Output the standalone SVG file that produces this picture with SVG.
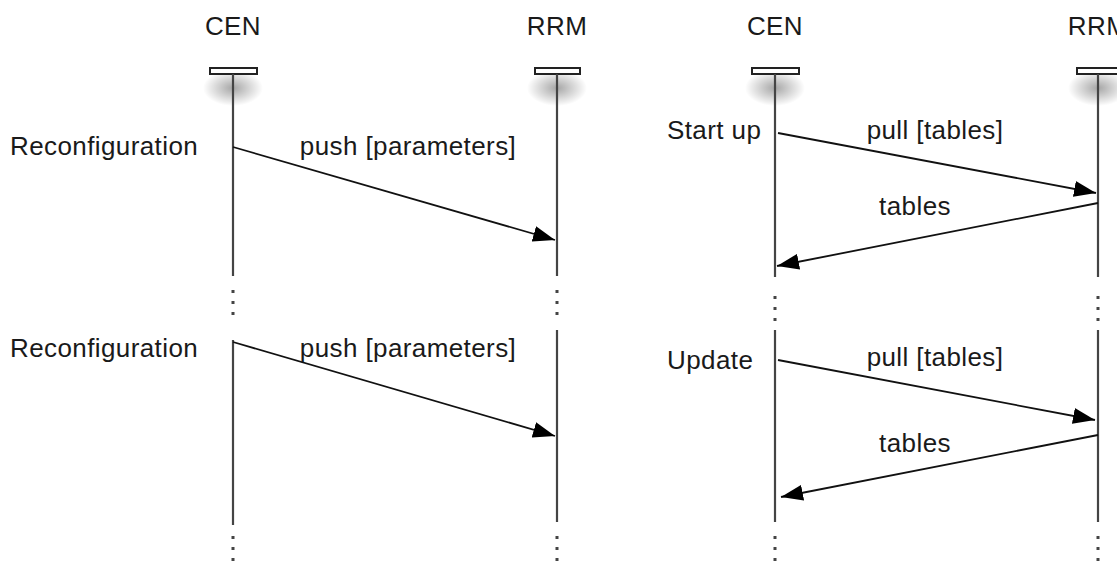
<svg xmlns="http://www.w3.org/2000/svg" width="1117" height="563" viewBox="0 0 1117 563">
<style>
text{font-family:"Liberation Sans",Arial,sans-serif;font-size:26px;fill:#1a1a1a;letter-spacing:0.4px}
.life{stroke:#444;stroke-width:2.2;fill:none}
.dots{stroke:#444;stroke-width:3;stroke-dasharray:3 8;fill:none}
.bar{fill:#fff;stroke:#222;stroke-width:2}
.msg{stroke:#111;stroke-width:1.8;fill:none;marker-end:url(#ah)}
</style>
<defs>
<radialGradient id="sh" cx="0.5" cy="0.5" r="0.5">
<stop offset="0" stop-color="#000" stop-opacity="0.35"/>
<stop offset="1" stop-color="#000" stop-opacity="0"/>
</radialGradient>
<marker id="ah" markerUnits="userSpaceOnUse" markerWidth="24" markerHeight="16" refX="22" refY="8" orient="auto">
<path d="M0,0 L22,8 L0,16 Z" fill="#000"/>
</marker>
</defs>
<g id="cen1">
<text x="233" y="35" text-anchor="middle">CEN</text>
<ellipse cx="233" cy="88" rx="30" ry="18" fill="url(#sh)"/>
<rect class="bar" x="210" y="68" width="47" height="6"/>
<path class="life" d="M233,74 V276 M233,340 V525"/>
<path class="dots" d="M233,290 V318 M233,536 V563"/>
</g>
<g id="rrm1">
<text x="557" y="35" text-anchor="middle">RRM</text>
<ellipse cx="557" cy="88" rx="30" ry="18" fill="url(#sh)"/>
<rect class="bar" x="535" y="68" width="45" height="6"/>
<path class="life" d="M557,74 V276 M557,330 V522"/>
<path class="dots" d="M557,290 V318 M557,536 V563"/>
</g>
<g id="cen2">
<text x="775" y="35" text-anchor="middle">CEN</text>
<ellipse cx="775" cy="88" rx="30" ry="18" fill="url(#sh)"/>
<rect class="bar" x="752" y="68" width="47" height="6"/>
<path class="life" d="M775,74 V277 M775,330 V522"/>
<path class="dots" d="M775,296 V324 M775,536 V563"/>
</g>
<g id="rrm2">
<text x="1098" y="35" text-anchor="middle">RRM</text>
<ellipse cx="1098" cy="88" rx="30" ry="18" fill="url(#sh)"/>
<rect class="bar" x="1077" y="68" width="45" height="6"/>
<path class="life" d="M1098,74 V277 M1098,330 V522"/>
<path class="dots" d="M1098,296 V324 M1098,536 V563"/>
</g>
<g id="labels">
<text x="10" y="155">Reconfiguration</text>
<text x="10" y="357">Reconfiguration</text>
<text x="667" y="139">Start up</text>
<text x="667" y="369">Update</text>
</g>
<g id="connectors">
<path class="msg" d="M233,147 L555,240"/>
<text x="408" y="155" text-anchor="middle">push [parameters]</text>
<path class="msg" d="M233,342 L555,436"/>
<text x="408" y="357" text-anchor="middle">push [parameters]</text>
<path class="msg" d="M778,133 L1096,193"/>
<text x="935" y="139" text-anchor="middle">pull [tables]</text>
<path class="msg" d="M1098,203 L777,266"/>
<text x="915" y="215" text-anchor="middle">tables</text>
<path class="msg" d="M778,360 L1095,420"/>
<text x="935" y="366" text-anchor="middle">pull [tables]</text>
<path class="msg" d="M1098,435 L781,497"/>
<text x="915" y="452" text-anchor="middle">tables</text>
</g>
</svg>
